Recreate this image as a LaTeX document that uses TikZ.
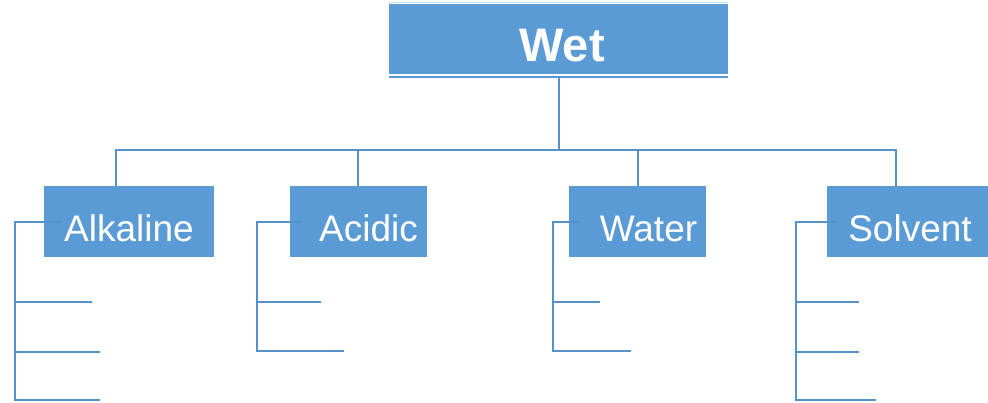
\documentclass[tikz,border=0pt]{standalone}
\usepackage{fontspec}
\setmainfont{Liberation Sans}
\usepackage{tikz}
\definecolor{boxblue}{HTML}{5B9BD5}
\definecolor{lineblue}{HTML}{5591CB}
\definecolor{paleblue}{HTML}{C9DDF0}

\begin{document}
\begin{tikzpicture}[x=1pt,y=-1pt,
    box/.style={fill=boxblue,text=white,inner sep=0pt,minimum height=71,
      text height=40pt,text depth=0pt,font=\fontsize{37}{37}\selectfont},
    link/.style={draw=lineblue,line width=1.5pt}]
  \useasboundingbox (0,0) rectangle (988,403);
  % top box
  \node[box,minimum width=339,minimum height=70,text height=46pt,
    font=\fontsize{47}{47}\selectfont\bfseries] (wet) at (558.5,38.7) {\hspace*{7pt}Wet};
  \draw[paleblue,line width=1.2pt] (wet.north west) ++(0,-1.2) -- ++(339,0);
  \draw[boxblue,line width=2pt] (wet.south west) ++(0,3.5) coordinate (wetbase) -- ++(339,0);
  % second row
  \node[box,minimum width=170] (alk) at (129,222) {Alkaline};
  \node[box,minimum width=137] (acid) at (358.5,222) {\hspace*{20pt}Acidic};
  \node[box,minimum width=137] (water) at (637.5,222) {\hspace*{22pt}Water};
  \node[box,minimum width=161] (solv) at (907.5,222) {\hspace*{5pt}Solvent};
  \coordinate (bus) at (559,150);
  \draw[link] (wetbase -| bus) -- (bus);
  \draw[link] (alk.north -| 116,0) |- (bus);
  \draw[link] (acid.north -| 358,0) |- (bus);
  \draw[link] (water.north -| 638,0) |- (bus);
  \draw[link] (solv.north -| 896,0) |- (bus);
  % empty sub-items under each box
  \draw[link] (62,222) -- (15,222) -- (15,400) -- (100,400);
  \draw[link] (15,302) -- (92,302) (15,352) -- (100,352);
  \draw[link] (302,222) -- (257,222) -- (257,351) -- (344,351);
  \draw[link] (257,302) -- (321,302);
  \draw[link] (579,222) -- (553,222) -- (553,351) -- (631,351);
  \draw[link] (553,302) -- (600,302);
  \draw[link] (837,222) -- (796,222) -- (796,400) -- (876,400);
  \foreach \y in {302,352}
    \draw[link] (796,\y) -- (859,\y);
\end{tikzpicture}
\end{document}
